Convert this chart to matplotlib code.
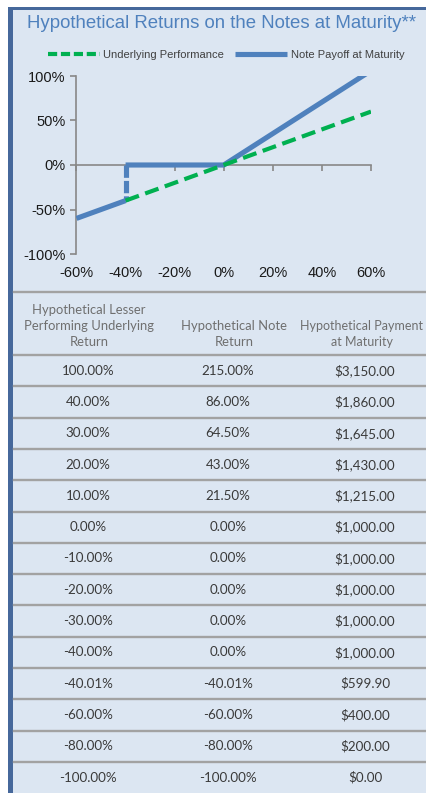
import matplotlib
matplotlib.use("Agg")
import matplotlib.pyplot as plt
from matplotlib.lines import Line2D
from matplotlib.patches import Rectangle

# ---------------- data ----------------
underlying_x = [-40, 60]
underlying_y = [-40, 60]
note_low_x = [-60, -40]
note_low_y = [-60, -40]
note_jump_x = [-40, -40]
note_jump_y = [0, -40]
note_high_x = [-40, 0, 60]
note_high_y = [0, 0, 106]

x_ticks = [-60, -40, -20, 0, 20, 40, 60]
y_ticks = [-100, -50, 0, 50, 100]

title = "Hypothetical Returns on the Notes at Maturity**"
col_headers = ["Hypothetical Lesser\nPerforming Underlying\nReturn",
               "Hypothetical Note\nReturn",
               "Hypothetical Payment\nat Maturity"]
col1 = ["100.00%", "40.00%", "30.00%", "20.00%", "10.00%", "0.00%", "-10.00%",
        "-20.00%", "-30.00%", "-40.00%", "-40.01%", "-60.00%", "-80.00%", "-100.00%"]
col2 = ["215.00%", "86.00%", "64.50%", "43.00%", "21.50%", "0.00%", "0.00%",
        "0.00%", "0.00%", "0.00%", "-40.01%", "-60.00%", "-80.00%", "-100.00%"]
col3 = ["$3,150.00", "$1,860.00", "$1,645.00", "$1,430.00", "$1,215.00", "$1,000.00",
        "$1,000.00", "$1,000.00", "$1,000.00", "$1,000.00", "$599.90", "$400.00",
        "$200.00", "$0.00"]

# ---------------- styling ----------------
W, H = 427, 793
BG = "#dce6f2"
BORDER = "#46689b"
BLUE = "#4f81bd"
GREEN = "#00b050"
AXIS = "#888888"

plt.rcParams['font.family'] = ['Liberation Sans', 'DejaVu Sans']

def fx(px):
    return px / W

def fy(py):
    return 1 - py / H

fig = plt.figure(figsize=(W / 100, H / 100), dpi=100, facecolor="white")

# background panel and borders
fig.add_artist(Rectangle((fx(8), 0), 1 - fx(8), fy(7), transform=fig.transFigure,
                         facecolor=BG, edgecolor="none", zorder=0))
fig.add_artist(Rectangle((fx(8), 0), fx(5.5), fy(7), transform=fig.transFigure,
                         facecolor=BORDER, edgecolor="none", zorder=1))
fig.add_artist(Rectangle((fx(8), fy(9.5)), 1 - fx(8), 2.5 / H, transform=fig.transFigure,
                         facecolor=BORDER, edgecolor="none", zorder=1))

# title
fig.text(fx(222), fy(24), title, ha="center", va="center", fontsize=13.4,
         color=BLUE)

# ---------------- chart ----------------
ax = fig.add_axes([fx(76.5), fy(254), fx(371 - 76.5), (254 - 76) / H])
ax.set_facecolor("none")
ax.set_xlim(-60, 60)
ax.set_ylim(-100, 100)

lw_blue = 3.7
ax.plot(note_low_x, note_low_y, color=BLUE, lw=lw_blue, solid_capstyle="butt", zorder=3)
ax.plot(note_high_x, note_high_y, color=BLUE, lw=lw_blue, solid_capstyle="butt",
        solid_joinstyle="miter", zorder=3, label="Note Payoff at Maturity")
ax.plot(note_jump_x, note_jump_y, color=BLUE, lw=lw_blue, dashes=(2.4, 0.6),
        dash_capstyle="butt", zorder=3)
ax.plot(underlying_x, underlying_y, color=GREEN, lw=3.0, dashes=(3.4, 1.6),
        dash_capstyle="butt", zorder=4, label="Underlying Performance")

for s in ["top", "right"]:
    ax.spines[s].set_visible(False)
ax.spines["left"].set_color(AXIS)
ax.spines["left"].set_linewidth(1.2)
ax.spines["bottom"].set_position(("data", 0))
ax.spines["bottom"].set_color(AXIS)
ax.spines["bottom"].set_linewidth(1.2)

ax.set_yticks(y_ticks)
ax.set_yticklabels([f"{v}%" for v in y_ticks])
ax.tick_params(axis="y", direction="out", length=4, width=1.2, color=AXIS,
               labelsize=10.5, pad=4, labelcolor="#1a1a1a")
ax.set_xticks(x_ticks)
ax.tick_params(axis="x", direction="out", length=4, width=1.2, color=AXIS,
               labelbottom=False)

sec = ax.secondary_xaxis("bottom")
sec.set_xticks(x_ticks)
sec.set_xticklabels([f"{v}%" for v in x_ticks])
sec.spines["bottom"].set_visible(False)
sec.tick_params(axis="x", length=0, labelsize=10.5, pad=8.5, labelcolor="#1a1a1a")

# legend
handles = [Line2D([], [], color=GREEN, lw=3.0, dashes=(2.2, 0.9), dash_capstyle="butt"),
           Line2D([], [], color=BLUE, lw=3.7, solid_capstyle="butt")]
fig.legend(handles, ["Underlying Performance", "Note Payoff at Maturity"],
           loc="center", bbox_to_anchor=(fx(226), fy(55)), ncol=2, frameon=False,
           fontsize=8.0, handlelength=4.7, handletextpad=0.3, columnspacing=1.0,
           labelcolor="#404040")

# ---------------- table ----------------
TFONT = ['Lato', 'DejaVu Sans']
LINE = "#a2a2a2"
col_x = [88, 228, 365]
head_x = [89, 234, 362]

def hline(py):
    fig.add_artist(Line2D([fx(14), 1], [fy(py), fy(py)], transform=fig.transFigure,
                          color=LINE, lw=1.7, zorder=2))

hline(292)
hline(355)
row_h = (762 - 355) / 13
for i in range(13):
    hline(355 + row_h * (i + 1))

fig.text(fx(head_x[0]), fy(326), col_headers[0], ha="center", va="center",
         fontsize=9.4, color="#6f6f6f", family=TFONT, linespacing=1.42)
fig.text(fx(head_x[1]), fy(334), col_headers[1], ha="center", va="center",
         fontsize=9.4, color="#6f6f6f", family=TFONT, linespacing=1.42)
fig.text(fx(head_x[2]), fy(334), col_headers[2], ha="center", va="center",
         fontsize=9.0, color="#6f6f6f", family=TFONT, linespacing=1.48)

for i, (a, b, c) in enumerate(zip(col1, col2, col3)):
    yc = 355 + row_h * i + row_h / 2
    for xx, txt in zip(col_x, (a, b, c)):
        fig.text(fx(xx), fy(yc), txt, ha="center", va="center", fontsize=9.6,
                 color="#3a3a3a", family=TFONT)

fig.savefig("out.png", dpi=100, facecolor="white")
